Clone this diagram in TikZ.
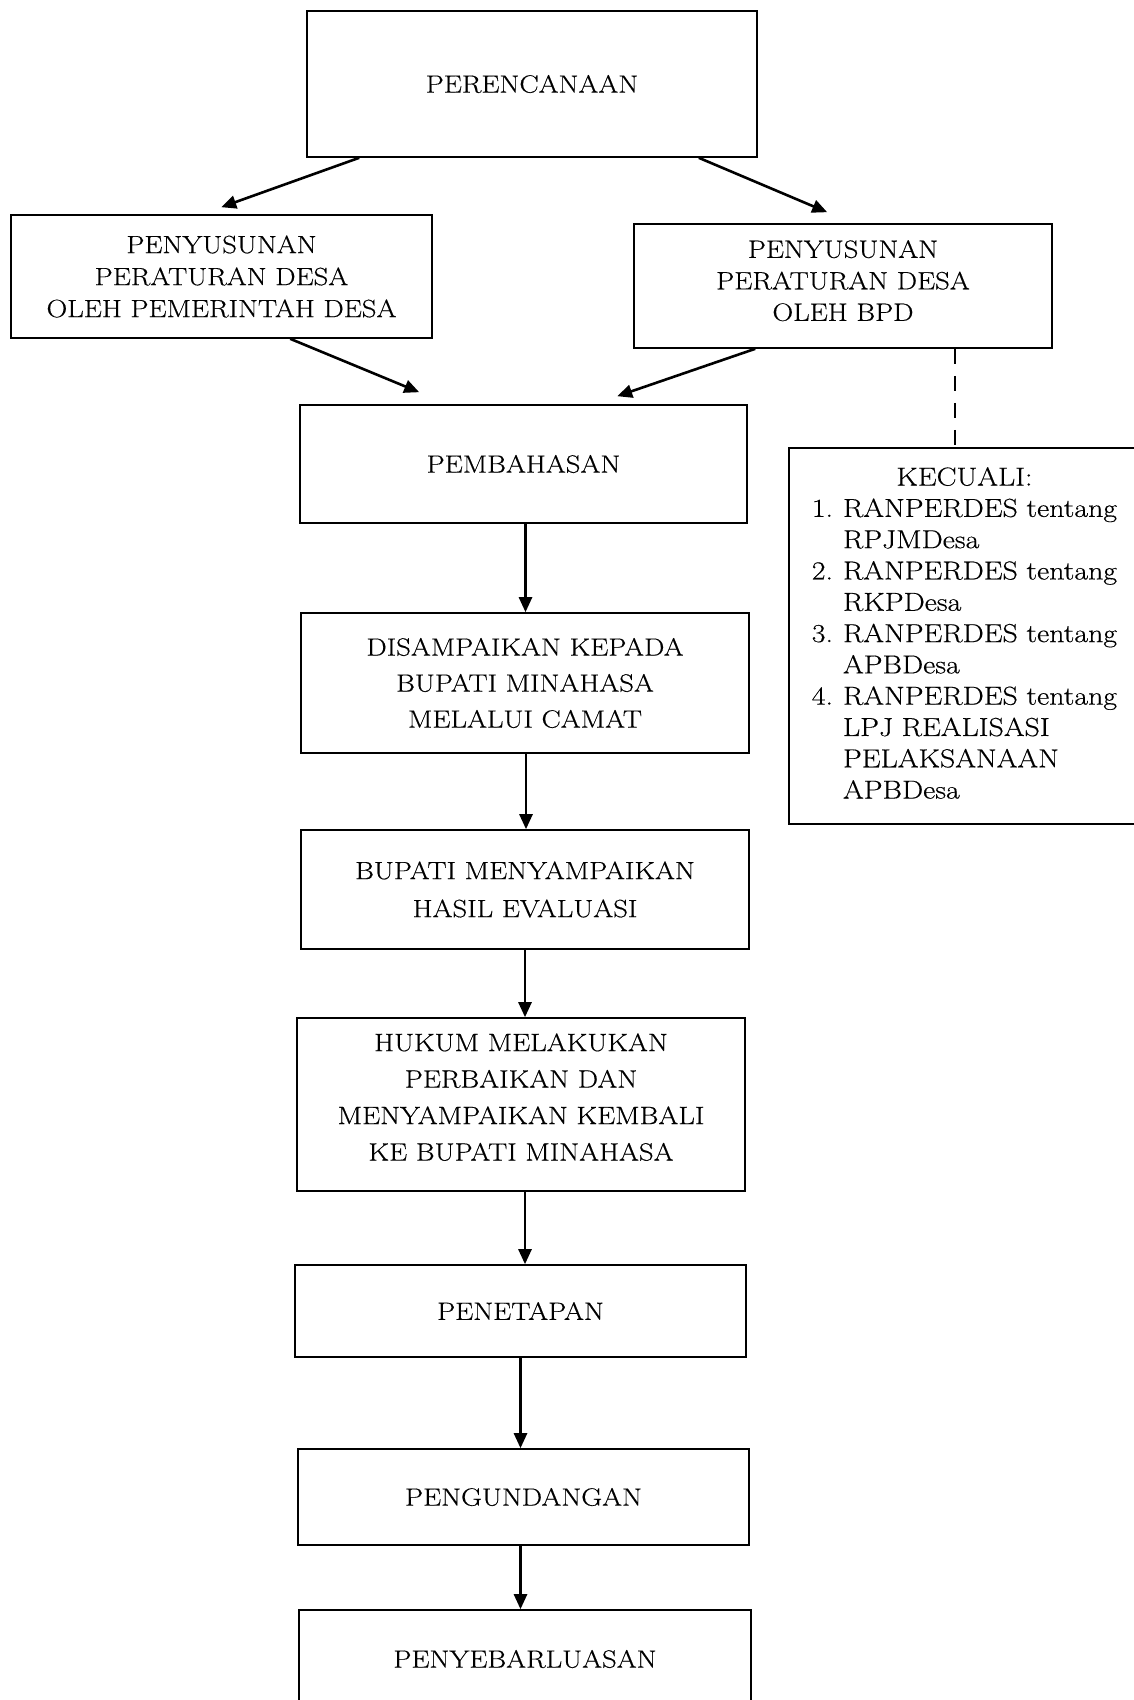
\documentclass[tikz,border=0pt]{standalone}
\usepackage{fontspec}
\setmainfont{Latin Modern Roman}[FakeStretch=1.15, FakeBold=0.4]
\usetikzlibrary{arrows.meta,calc}
\begin{document}
\begin{tikzpicture}[x=1pt,y=-1pt,
  box/.style={draw=black, line width=1.6pt, inner sep=0pt, align=center},
  fs/.style={font=\fontsize{25}{#1}\selectfont},
  arr/.style={line width=2.6pt, -{Triangle[length=15pt,width=13pt]}},
  dashline/.style={line width=2pt, dash pattern=on 15pt off 12pt},
]
\fill[white] (0,0) rectangle (1134,1700);
\useasboundingbox (0,0) rectangle (1134,1700);

\node[box, fs=32, minimum width=450pt, minimum height=146pt] (per) at (532,84) {PERENCANAAN};
\node[box, fs=32, minimum width=421pt, minimum height=123pt] (pemdes) at (221.5,276.5)
  {PENYUSUNAN\\PERATURAN DESA\\OLEH PEMERINTAH DESA};
\node[box, fs=31.5, minimum width=418pt, minimum height=124pt] (bpd) at (843,286)
  {\raisebox{3pt}[\height][\depth]{\begin{tabular}{@{}c@{}}PENYUSUNAN\\PERATURAN DESA\\OLEH BPD\end{tabular}}};
\node[box, fs=32, minimum width=447pt, minimum height=118pt] (bahas) at (523.5,464) {PEMBAHASAN};
\node[box, fs=36, minimum width=448pt, minimum height=140pt] (sampai) at (525,683)
  {DISAMPAIKAN KEPADA\\BUPATI MINAHASA\\MELALUI CAMAT};
\node[box, fs=38, minimum width=448pt, minimum height=119pt] (bupati) at (525,889.5)
  {BUPATI MENYAMPAIKAN\\HASIL EVALUASI};
\node[box, fs=36.5, minimum width=448pt, minimum height=173pt] (hukum) at (521,1104.5)
  {\raisebox{6pt}[\height][\depth]{\begin{tabular}{@{}c@{}}HUKUM MELAKUKAN\\PERBAIKAN DAN\\MENYAMPAIKAN KEMBALI\\KE BUPATI MINAHASA\end{tabular}}};
\node[box, fs=32, minimum width=451pt, minimum height=92pt] (tetap) at (520.5,1311) {PENETAPAN};
\node[box, fs=32, minimum width=451pt, minimum height=96pt] (undang) at (523.5,1497) {PENGUNDANGAN};
\node[box, fs=32, minimum width=452pt, minimum height=98pt] (sebar) at (525,1659) {PENYEBARLUASAN};

\node[draw=black, line width=1.6pt, anchor=north west, inner xsep=23pt, inner ysep=0pt,
  text width=330pt, minimum height=376pt, font=\fontsize{26}{31.3}\selectfont] (kec) at (788,447)
  {\begin{tabular}{@{}l@{\hspace{10pt}}l@{}}
   \multicolumn{2}{@{}c@{}}{KECUALI:}\\
   1. & RANPERDES tentang\\
      & RPJMDesa\\
   2. & RANPERDES tentang\\
      & RKPDesa\\
   3. & RANPERDES tentang\\
      & APBDesa\\
   4. & RANPERDES tentang\\
      & LPJ REALISASI\\
      & PELAKSANAAN\\
      & APBDesa
   \end{tabular}};

% diagonal arrows
\draw[arr] ([xshift=53pt]per.south west) -- ([xshift=211pt,yshift=7pt]pemdes.north west);
\draw[arr] ([xshift=-59pt]per.south east) -- ([xshift=194pt,yshift=11pt]bpd.north west);
\draw[arr] ([xshift=280pt]pemdes.south west) -- ([xshift=120pt,yshift=12pt]bahas.north west);
\draw[arr] ([xshift=122pt]bpd.south west) -- ([xshift=318pt,yshift=8pt]bahas.north west);

% dashed connector
\coordinate (d1) at ([xshift=112pt]bpd.south);
\draw[dashline] (d1) -- (d1 |- kec.north);

% vertical arrows
\coordinate (v1) at ([xshift=2pt]bahas.south);
\draw[arr] (v1) -- (v1 |- sampai.north);
\coordinate (v2) at ([xshift=1pt]sampai.south);
\draw[arr] (v2) -- (v2 |- bupati.north);
\coordinate (v3) at (bupati.south);
\draw[arr] (v3) -- (v3 |- hukum.north);
\coordinate (v4) at ([xshift=4pt]hukum.south);
\draw[arr] (v4) -- (v4 |- tetap.north);
\coordinate (v5) at (tetap.south);
\draw[arr] (v5) -- (v5 |- undang.north);
\coordinate (v6) at ([xshift=-3pt]undang.south);
\draw[arr] (v6) -- (v6 |- sebar.north);
\end{tikzpicture}
\end{document}
